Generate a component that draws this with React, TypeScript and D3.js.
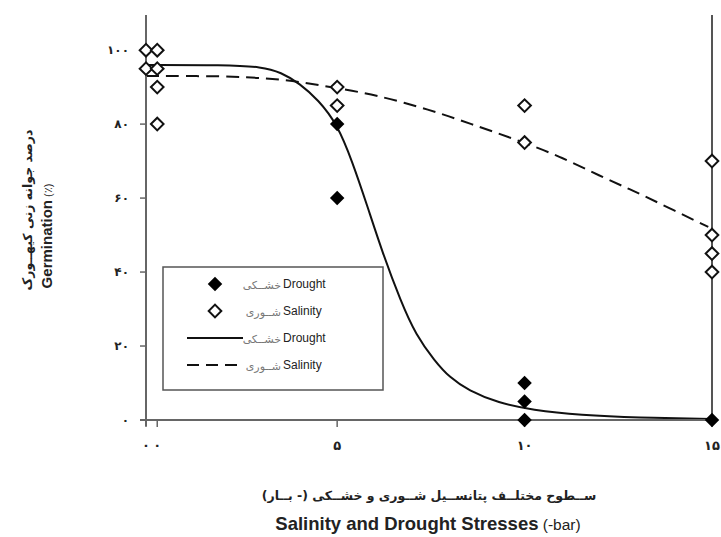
import React from 'react';
import * as d3 from 'd3';

// measured points
const droughtX = [5, 5, 10, 10, 10, 15];
const droughtY = [80, 60, 10, 5, 0, 0];
const salinityX = [-0.1, 0.2, -0.1, 0.2, 0.2, 0.2, 5, 5, 10, 10, 15, 15, 15, 15];
const salinityY = [100, 100, 95, 95, 90, 80, 90, 85, 85, 75, 70, 50, 45, 40];

// fitted curves
const droughtFitX = [-0.1, 2, 3, 3.5, 4, 4.5, 5, 5.4, 5.8, 6.2, 6.7, 7.1, 7.6, 8, 8.5, 9.3, 10.2, 11.5, 13, 15];
const droughtFitY = [96, 96, 95.5, 94, 91, 86.5, 80, 70, 58, 45.5, 32, 23, 16, 11.5, 8, 4.6, 2.7, 1.3, 0.6, 0.3];
const salinityFitX = [-0.1, 2, 3, 4, 5, 6, 7.5, 8.5, 10, 11, 12, 12.9, 13.8, 14.9];
const salinityFitY = [93, 93, 92.5, 91.5, 89.7, 88, 83.8, 80.3, 75, 71, 66, 62, 57.6, 52.2];

const yTicks = [0, 20, 40, 60, 80, 100];
const yTickLabels = ['۰', '۲۰', '۴۰', '۶۰', '۸۰', '۱۰۰'];
const xTicks = [-0.1, 0.2, 5, 10, 15];
const xTickLabels = ['۰', '۰', '۵', '۱۰', '۱۵'];

const legendItems = [
  { en: 'Drought', fa: 'خشــکی', kind: 'filled' },
  { en: 'Salinity', fa: 'شــوری', kind: 'open' },
  { en: 'Drought', fa: 'خشــکی', kind: 'solid' },
  { en: 'Salinity', fa: 'شــوری', kind: 'dashed' },
];

const W = 721;
const H = 537;
const faFont = '"DejaVu Sans", sans-serif';
const enFont = '"Liberation Sans", Arial, sans-serif';

export default function App() {
  const x = d3.scaleLinear().domain([-0.1, 15]).range([146, 712]);
  const y = d3.scaleLinear().domain([0, 109.5]).range([420, 15]);

  const line = d3.line<[number, number]>()
    .x(d => x(d[0]))
    .y(d => y(d[1]))
    .curve(d3.curveBasis);

  const droughtFit = droughtFitX.map((v, i) => [v, droughtFitY[i]] as [number, number]);
  const salinityFit = salinityFitX.map((v, i) => [v, salinityFitY[i]] as [number, number]);

  const filledDiamond = d3.symbol().type(d3.symbolSquare).size(105)();
  const openDiamond = d3.symbol().type(d3.symbolSquare).size(80)();

  const left = x.range()[0];
  const right = x.range()[1];
  const bottom = y.range()[0];
  const top = y.range()[1];

  // legend box
  const lg = { x: 163, y: 267, w: 220, h: 123 };
  const rowY = (i: number) => lg.y + 17 + i * 27;

  return (
    <svg width={W} height={H} style={{ position: 'absolute', left: 0, top: 0, background: '#fff' }}>
      {/* fitted curves */}
      <path d={line(salinityFit) || ''} fill="none" stroke="#111" strokeWidth={2} strokeDasharray="13,7" />
      <path d={line(droughtFit) || ''} fill="none" stroke="#111" strokeWidth={2} />

      {/* axes */}
      <line x1={left - 6} x2={right} y1={bottom} y2={bottom} stroke="#666" strokeWidth={2} />
      <line x1={left} x2={left} y1={top} y2={bottom + 6} stroke="#666" strokeWidth={2} />
      <line x1={right} x2={right} y1={top} y2={bottom} stroke="#555" strokeWidth={2} />

      {yTicks.map((t, i) => (
        <g key={'y' + t} transform={`translate(0,${y(t)})`}>
          <line x1={left - 6} x2={left} stroke="#666" strokeWidth={1.5} />
          <text x={129} dy="0.35em" textAnchor="end" fontFamily={faFont} fontWeight="bold" fontSize={12} fill="#222">
            {yTickLabels[i]}
          </text>
        </g>
      ))}

      {xTicks.map((t, i) => (
        <g key={'x' + i} transform={`translate(${x(t)},0)`}>
          <line y1={bottom} y2={bottom + 7} stroke="#666" strokeWidth={1.5} />
          <text y={bottom + 30} textAnchor="middle" fontFamily={faFont} fontWeight="bold" fontSize={13} fill="#222">
            {xTickLabels[i]}
          </text>
        </g>
      ))}

      {/* points */}
      {salinityX.map((v, i) => (
        <path key={'s' + i} d={openDiamond || ''} transform={`translate(${x(v)},${y(salinityY[i])}) rotate(45)`}
          fill="#fff" stroke="#111" strokeWidth={2} />
      ))}
      {droughtX.map((v, i) => (
        <path key={'d' + i} d={filledDiamond || ''} transform={`translate(${x(v)},${y(droughtY[i])}) rotate(45)`}
          fill="#000" />
      ))}

      {/* legend */}
      <rect x={lg.x} y={lg.y} width={lg.w} height={lg.h} fill="#fff" stroke="#555" strokeWidth={1.5} />
      {legendItems.map((it, i) => (
        <g key={'l' + i} transform={`translate(0,${rowY(i)})`}>
          {it.kind === 'filled' && <path d={filledDiamond || ''} transform="translate(215,0) rotate(45)" fill="#000" />}
          {it.kind === 'open' && <path d={openDiamond || ''} transform="translate(215,0) rotate(45)" fill="#fff" stroke="#111" strokeWidth={2} />}
          {it.kind === 'solid' && <line x1={187} x2={243} stroke="#111" strokeWidth={2} />}
          {it.kind === 'dashed' && <line x1={187} x2={243} stroke="#111" strokeWidth={2} strokeDasharray="12,7" />}
          <text x={281} dy="0.45em" textAnchor="end" fontFamily={faFont} fontSize={11} fill="#777">{it.fa}</text>
          <text x={283} dy="0.35em" fontFamily={enFont} fontSize={12} fill="#222">{it.en}</text>
        </g>
      ))}

      {/* y axis titles */}
      <text transform="translate(32,210) rotate(-90)" textAnchor="middle" fontFamily={faFont} fontWeight="bold"
        fontSize={12.5} fill="#222">
        درصد جوانه زنی کیهــورک
      </text>
      <text transform="translate(52,236) rotate(-90)" textAnchor="middle" fontFamily={enFont} fontSize={15} fill="#222">
        <tspan fontWeight="bold">Germination</tspan>
        <tspan fontSize={11}> (٪)</tspan>
      </text>

      {/* x axis titles */}
      <text x={429} y={500} textAnchor="middle" fontFamily={faFont} fontWeight="bold" fontSize={12.5} fill="#222">
        ســطوح مختلــف پتانســیل شــوری و خشــکی (- بــار)
      </text>
      <text x={428} y={530} textAnchor="middle" fontFamily={enFont} fontSize={18.5} fill="#222">
        <tspan fontWeight="bold">Salinity and Drought Stresses</tspan>
        <tspan fontSize={15.5}> (-bar)</tspan>
      </text>
    </svg>
  );
}
